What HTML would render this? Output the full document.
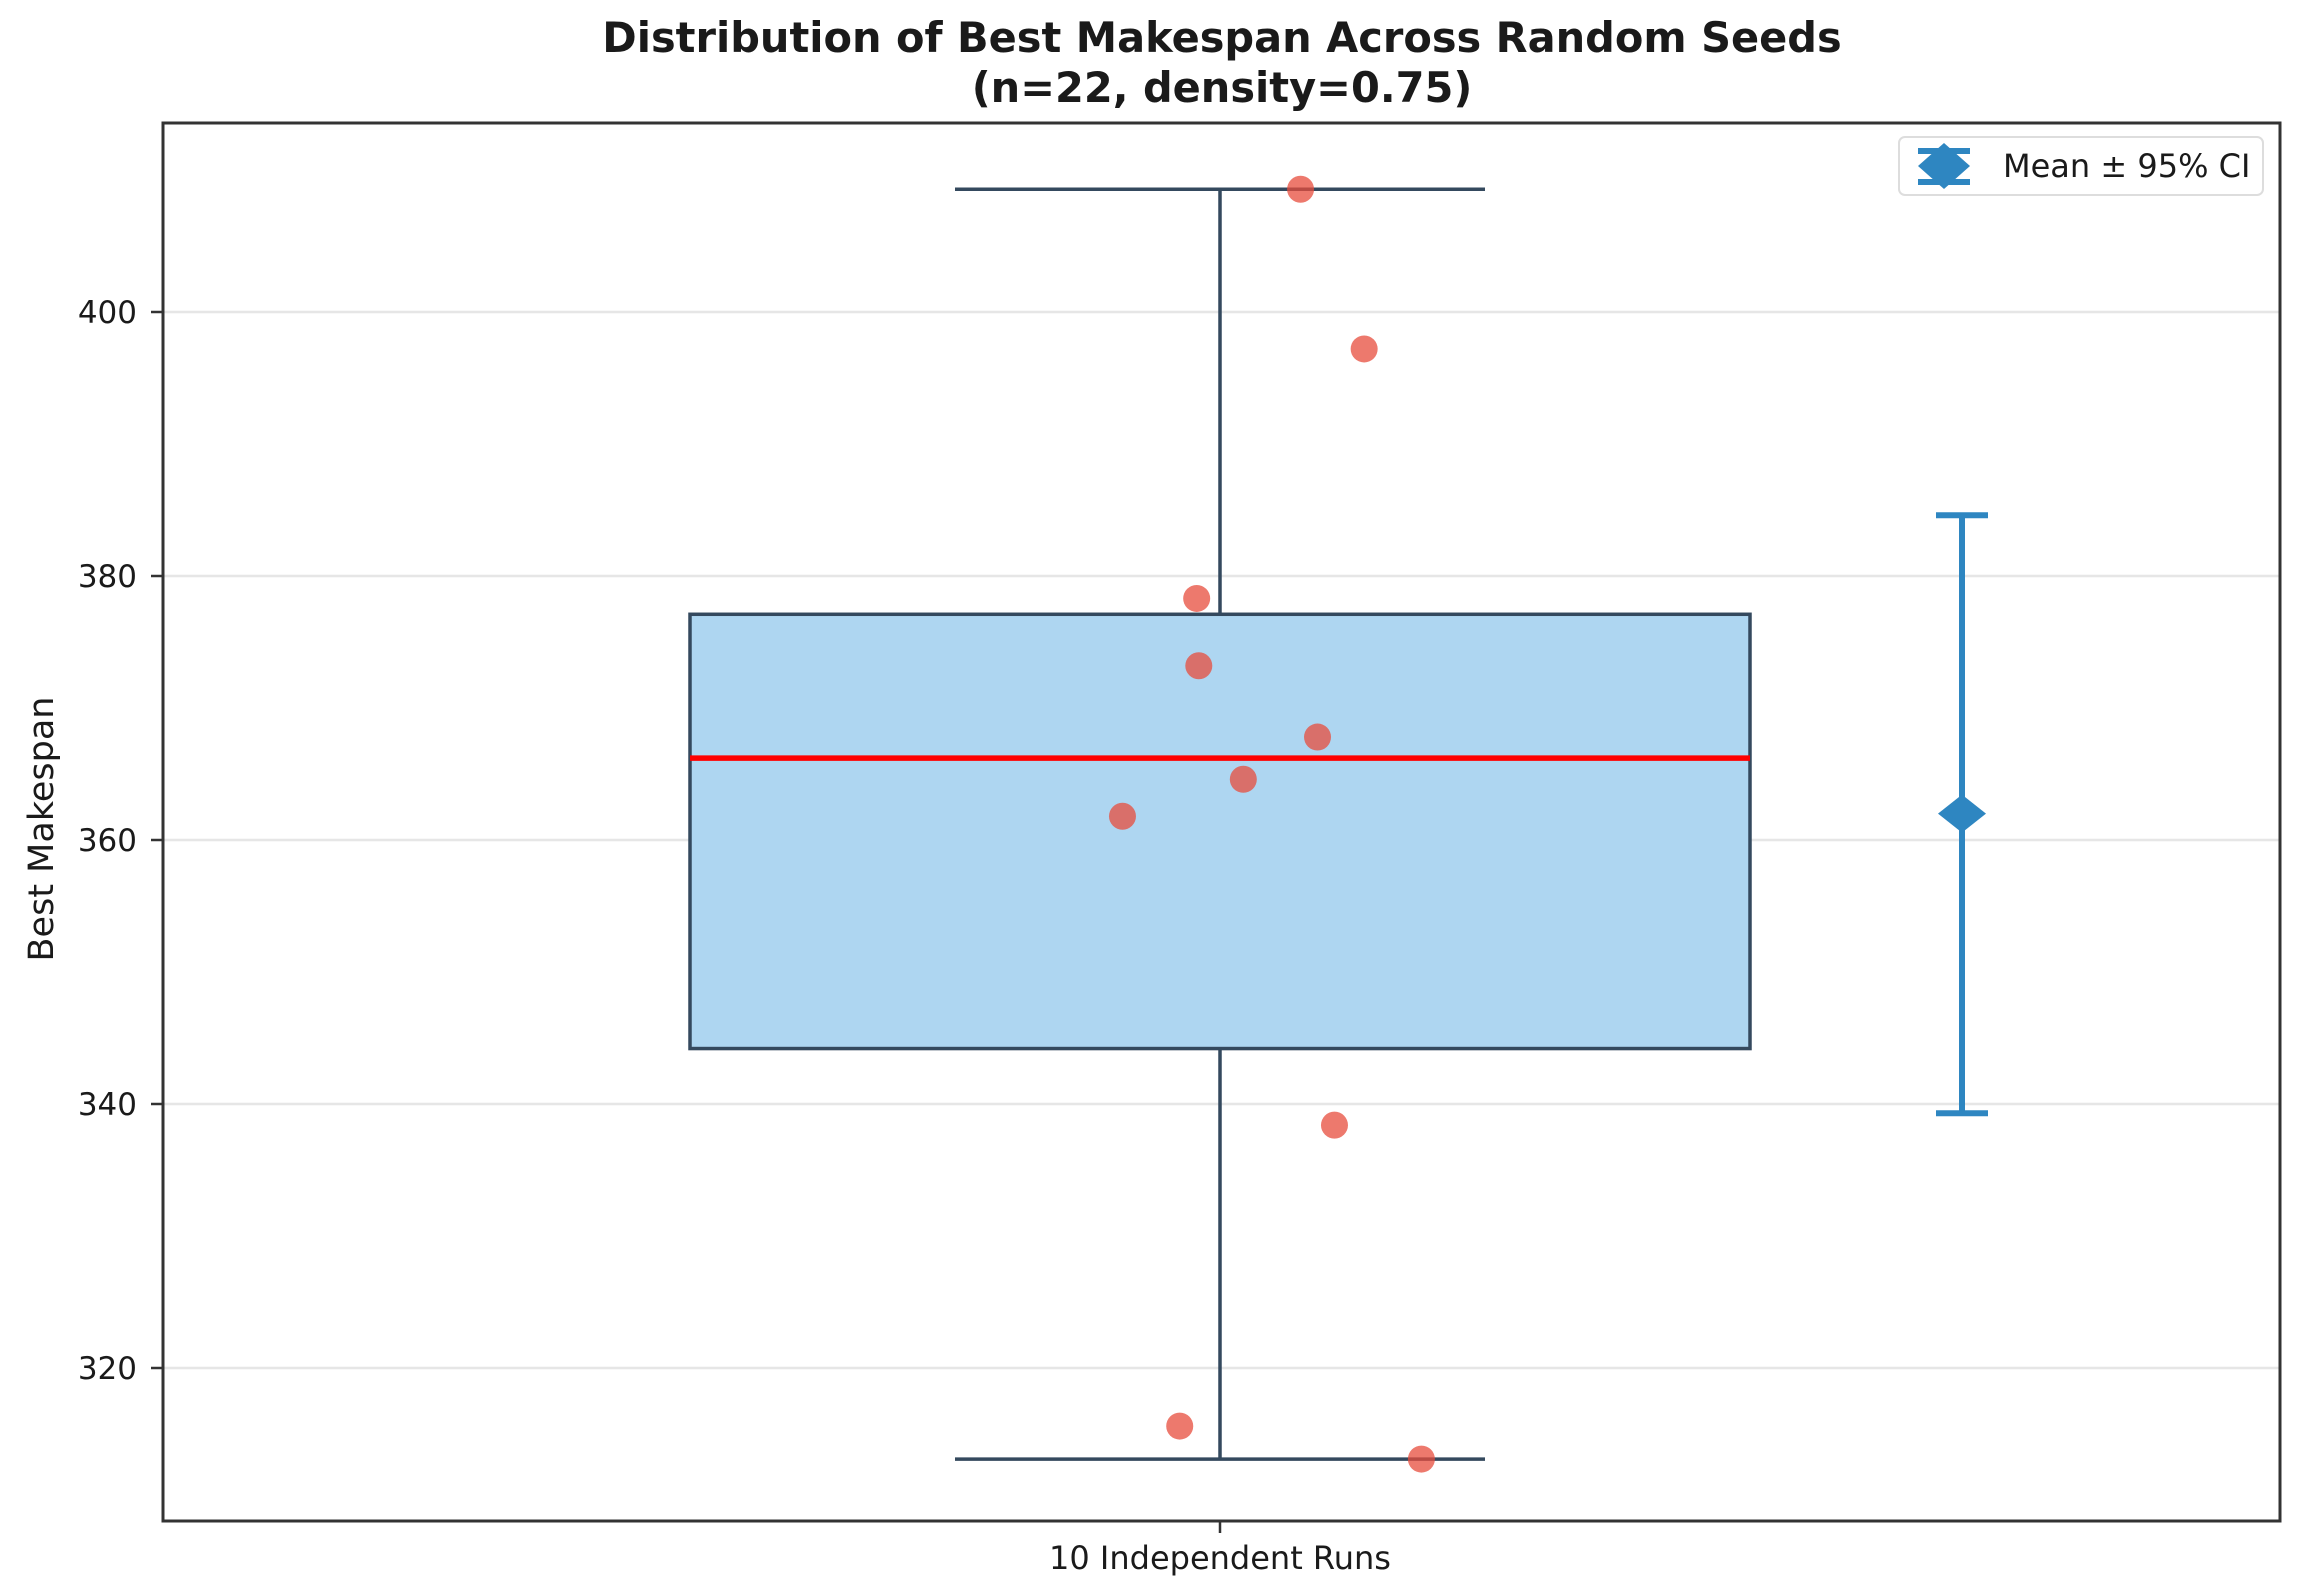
<!DOCTYPE html>
<html><head><meta charset="utf-8"><style>
html,body{margin:0;padding:0;background:#fff}
svg{display:block}
text{font-family:"DejaVu Sans","Liberation Sans",sans-serif;fill:#1a1a1a}
</style></head><body>
<svg id="chart" width="2313" height="1593" viewBox="0 0 2313 1593" xmlns="http://www.w3.org/2000/svg">
<rect x="0" y="0" width="2313" height="1593" fill="#fff"/>
<text x="1222" y="52" text-anchor="middle" font-size="41.5" font-weight="bold">Distribution of Best Makespan Across Random Seeds</text>
<text x="1222" y="102" text-anchor="middle" font-size="41.5" font-weight="bold">(n=22, density=0.75)</text>
<g id="grid"></g>
<g id="marks"></g>
<rect x="163" y="123" width="2117" height="1398" fill="none" stroke="#333" stroke-width="3"/>
<g id="axes"></g>
<text transform="translate(53,829) rotate(-90)" text-anchor="middle" font-size="35">Best Makespan</text>
<g>
<rect x="1899" y="137" width="364" height="58" rx="6" fill="#fff" stroke="#ddd" stroke-width="2"/>
<g stroke="#2e86c1" stroke-width="6">
<line x1="1918" y1="151" x2="1970" y2="151"/><line x1="1918" y1="182" x2="1970" y2="182"/><line x1="1944" y1="151" x2="1944" y2="182"/>
<polygon points="1944,143 1970,166 1944,189 1918,166" fill="#2e86c1" stroke="none"/>
</g>
<text x="2003" y="177" font-size="32">Mean ± 95% CI</text>
</g>
</svg>
<script>
// data
const categories = ["10 Independent Runs"];
const boxStats = [313.1, 344.2, 366.2, 377.1, 409.3]; // min, q1, median, q3, max
const pointValues = [409.3, 397.2, 378.3, 373.2, 367.8, 364.6, 361.8, 338.4, 315.6, 313.1];
const pointJitter = [0.038, 0.068, -0.011, -0.010, 0.046, 0.011, -0.046, 0.054, -0.019, 0.095];
const meanValue = [362.0];
const ciBounds = [339.3, 384.6];
const meanOffset = [0.35];
const yTicks = [320, 340, 360, 380, 400];

const NS = "http://www.w3.org/2000/svg";
function y(v){ return 1368 - (v - 320) * 13.2; }
function x(c){ return 1220 + (c - 1) * 2120; }
function mk(tag, attrs, parent){ const e = document.createElementNS(NS, tag); for (const k in attrs) e.setAttribute(k, attrs[k]); parent.appendChild(e); return e; }

const grid = document.getElementById('grid'), marks = document.getElementById('marks'), axes = document.getElementById('axes');
yTicks.forEach(t => {
  const g = mk('line', {x1:163, x2:2280, y1:y(t), y2:y(t), stroke:'#e6e6e6', 'stroke-width':2.5}, grid);
  
  
  const tk = mk('line', {x1:151, x2:163, y1:y(t), y2:y(t), stroke:'#333', 'stroke-width':2.5}, axes);
  
  
  const lb = mk('text', {x:137, y:y(t) + 11, 'text-anchor':'end', 'font-size':31}, axes);
  lb.textContent = t;
  
  
});
categories.forEach((c, i) => {
  const cx = x(i + 1);
  const tk = mk('line', {x1:cx, x2:cx, y1:1521, y2:1533, stroke:'#333', 'stroke-width':2.5}, axes);
  
  
  const lb = mk('text', {x:cx, y:1569, 'text-anchor':'middle', 'font-size':32}, axes);
  lb.textContent = c;
  
  

  const half = 0.25 * 2120, capHalf = 0.125 * 2120;
  const st = {stroke:'#34495e', 'stroke-width':3.5};
  const w1 = mk('line', Object.assign({x1:cx, x2:cx, y1:y(boxStats[0]), y2:y(boxStats[1])}, st), marks);
  
  
  const w2 = mk('line', Object.assign({x1:cx, x2:cx, y1:y(boxStats[3]), y2:y(boxStats[4])}, st), marks);
  
  
  const c1 = mk('line', Object.assign({x1:cx - capHalf, x2:cx + capHalf, y1:y(boxStats[0]), y2:y(boxStats[0])}, st), marks);
  
  
  const c2 = mk('line', Object.assign({x1:cx - capHalf, x2:cx + capHalf, y1:y(boxStats[4]), y2:y(boxStats[4])}, st), marks);
  
  
  const bx = mk('rect', {x:cx - half, y:y(boxStats[3]), width:2 * half, height:y(boxStats[1]) - y(boxStats[3]), fill:'#aed6f1', stroke:'#34495e', 'stroke-width':3.5}, marks);
  
  
  const md = mk('line', {x1:cx - half, x2:cx + half, y1:y(boxStats[2]), y2:y(boxStats[2]), stroke:'#ff0000', 'stroke-width':5.5}, marks);
  
  

  pointValues.forEach((v, j) => {
    const p = mk('circle', {cx:x(i + 1 + pointJitter[j]), cy:y(v), r:13.5, fill:'#e74c3c', 'fill-opacity':0.75}, marks);
    
    
  });

  const mx = x(i + 1 + meanOffset[0]);
  const eb = {stroke:'#2e86c1', 'stroke-width':6};
  const el = mk('line', Object.assign({x1:mx, x2:mx, y1:y(ciBounds[0]), y2:y(ciBounds[1])}, eb), marks);
  
  
  [0, 1].forEach(k => {
    const cp = mk('line', Object.assign({x1:mx - 26, x2:mx + 26, y1:y(ciBounds[k]), y2:y(ciBounds[k])}, eb), marks);
    
    
  });
  const my = y(meanValue[0]);
  const dm = mk('polygon', {points:`${mx},${my - 19} ${mx + 24},${my} ${mx},${my + 19} ${mx - 24},${my}`, fill:'#2e86c1'}, marks);
  
  
});
</script>
</body></html>
